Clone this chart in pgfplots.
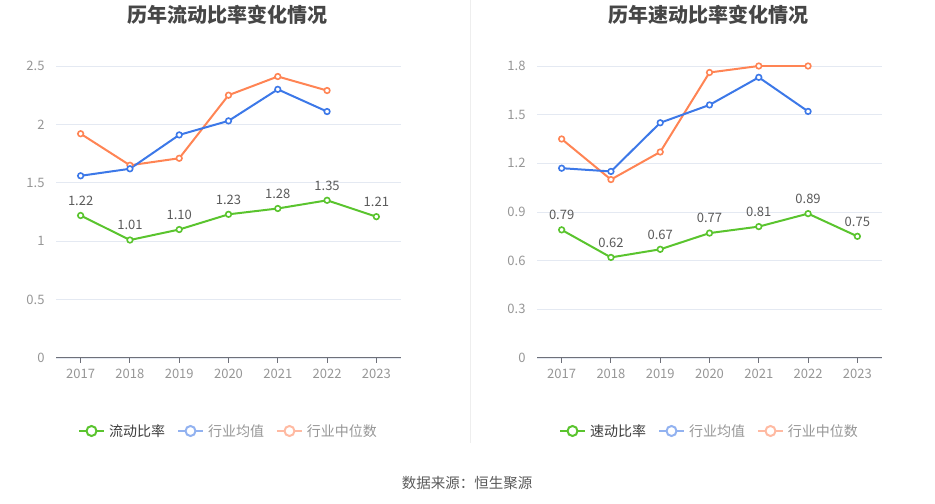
\documentclass[border=0pt]{standalone}
\usepackage{pgfplots}
\pgfplotsset{compat=1.18}
\usepackage{fontspec}
\setmainfont{Noto Sans CJK SC}
\definecolor{cgreen}{RGB}{90,196,46}
\definecolor{cblue}{RGB}{60,120,232}
\definecolor{corange}{RGB}{255,132,84}
\definecolor{lgreen}{RGB}{90,196,46}
\definecolor{lblue}{RGB}{146,178,240}
\definecolor{lorange}{RGB}{255,186,162}
\definecolor{gridc}{RGB}{228,233,242}
\definecolor{axisc}{RGB}{110,112,121}
\definecolor{tickc}{RGB}{150,150,150}
\definecolor{labc}{RGB}{90,90,90}
\definecolor{titc}{RGB}{70,70,70}
\definecolor{legd}{RGB}{60,60,60}
\definecolor{legl}{RGB}{150,150,150}
\definecolor{sepc}{RGB}{238,238,238}

\pgfplotstableread{
x cur avg med
0 1.22 1.56 1.92
1 1.01 1.62 1.65
2 1.10 1.91 1.71
3 1.23 2.03 2.25
4 1.28 2.30 2.41
5 1.35 2.11 2.29
6 1.21 nan nan
}\leftdata
\pgfplotstableread{
x cur avg med
0 0.79 1.17 1.35
1 0.62 1.15 1.10
2 0.67 1.45 1.27
3 0.77 1.56 1.76
4 0.81 1.73 1.80
5 0.89 1.52 1.80
6 0.75 nan nan
}\rightdata

\pgfplotsset{
  mystyle/.style={
    scale only axis,
    width=345bp,
    height=292bp,
    xmin=-0.5, xmax=6.5,
    ymin=0,
    xtick={0,1,2,3,4,5,6},
    xticklabels={2017,2018,2019,2020,2021,2022,2023},
    axis x line*=bottom,
    axis y line*=left,
    x axis line style={-, draw=axisc, line width=1bp},
    y axis line style={draw=none},
    ytick style={draw=none},
    xtick style={draw=axisc, line width=1bp},
    tick align=outside,
    major tick length=5bp,
    ymajorgrids,
    grid style={draw=gridc, line width=0.8bp},
    tick label style={font=\fontsize{13bp}{15bp}\selectfont, text=tickc},
    xticklabel style={yshift=-3bp},
    yticklabel style={xshift=-3bp},
    /pgf/number format/assume math mode=true,
    unbounded coords=jump,
    legend style={draw=none, fill=none, font=\fontsize{14bp}{16bp}\selectfont,
      legend columns=3, at={(0.5,-0.25)}, anchor=center,
      /tikz/every even column/.append style={column sep=10bp},
      /tikz/every odd column/.append style={column sep=2bp},
      inner sep=0pt},
    legend cell align=left,
    every axis plot/.append style={line width=2bp, mark=*, mark size=2.8bp,
      mark options={fill=white, line width=1.6bp}},
  },
  legimg/.style={legend image code/.code={
      \draw[line width=2bp, #1] (0bp,0bp) -- (25bp,0bp);
      \draw[line width=2bp, #1, fill=white] (12.5bp,0bp) circle (5bp);}},
}

\begin{document}
\begin{tikzpicture}
\path[use as bounding box] (0bp,0bp) rectangle (935bp,504bp);
\draw[sepc, line width=1bp] (470bp,504bp) -- (470bp,61bp);

\node[font=\fontsize{20bp}{23bp}\selectfont\bfseries, text=titc] at (227bp,489bp) {历年流动比率变化情况};
\node[font=\fontsize{20bp}{23bp}\selectfont\bfseries, text=titc] at (708bp,489bp) {历年速动比率变化情况};
\node[font=\fontsize{14.5bp}{16bp}\selectfont, text=labc] at (467bp,21bp) {数据来源：恒生聚源};

\begin{axis}[mystyle, at={(56bp,146bp)}, anchor=south west,
  ymax=2.5, ytick={0,0.5,1,1.5,2,2.5}, yticklabels={0,0.5,1,1.5,2,2.5}]
\addlegendimage{legimg=lgreen}
\addlegendentry{\textcolor{legd}{流动比率}}
\addlegendimage{legimg=lblue}
\addlegendentry{\textcolor{legl}{行业均值}}
\addlegendimage{legimg=lorange}
\addlegendentry{\textcolor{legl}{行业中位数}}
\addplot[corange, forget plot] table[x=x,y=med] {\leftdata};
\addplot[cblue, forget plot] table[x=x,y=avg] {\leftdata};
\addplot[cgreen, forget plot,
  nodes near coords={\pgfmathprintnumber[fixed,fixed zerofill,precision=2]{\pgfplotspointmeta}},
  nodes near coords style={font=\fontsize{13bp}{15bp}\selectfont, text=labc, anchor=south, yshift=6bp},
  point meta=y] table[x=x,y=cur] {\leftdata};
\end{axis}

\begin{axis}[mystyle, at={(537bp,146bp)}, anchor=south west,
  ymax=1.8, ytick={0,0.3,0.6,0.9,1.2,1.5,1.8}, yticklabels={0,0.3,0.6,0.9,1.2,1.5,1.8}]
\addlegendimage{legimg=lgreen}
\addlegendentry{\textcolor{legd}{速动比率}}
\addlegendimage{legimg=lblue}
\addlegendentry{\textcolor{legl}{行业均值}}
\addlegendimage{legimg=lorange}
\addlegendentry{\textcolor{legl}{行业中位数}}
\addplot[corange, forget plot] table[x=x,y=med] {\rightdata};
\addplot[cblue, forget plot] table[x=x,y=avg] {\rightdata};
\addplot[cgreen, forget plot,
  nodes near coords={\pgfmathprintnumber[fixed,fixed zerofill,precision=2]{\pgfplotspointmeta}},
  nodes near coords style={font=\fontsize{13bp}{15bp}\selectfont, text=labc, anchor=south, yshift=6bp},
  point meta=y] table[x=x,y=cur] {\rightdata};
\end{axis}
\end{tikzpicture}
\end{document}
